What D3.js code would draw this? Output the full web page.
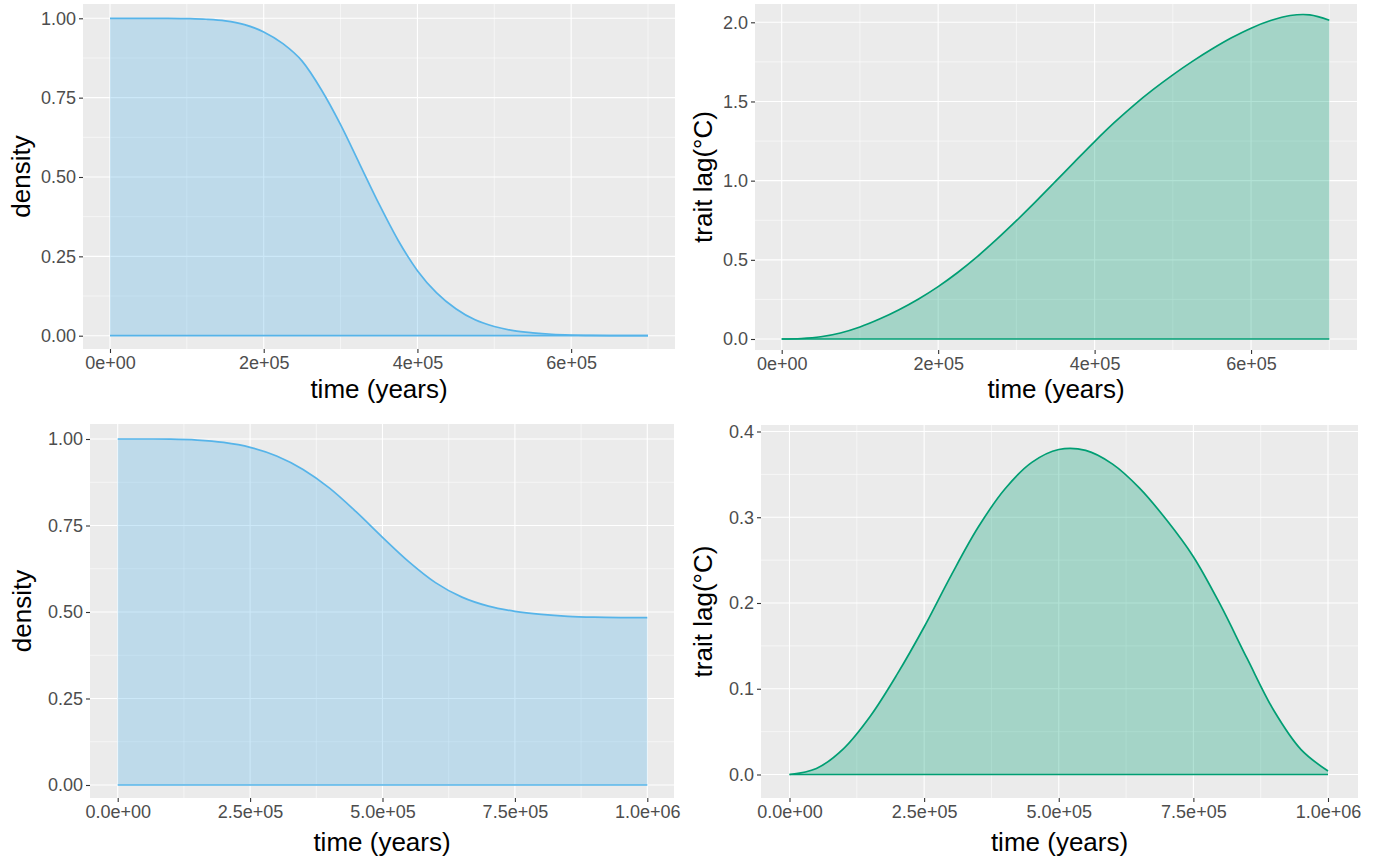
<!DOCTYPE html>
<html>
<head>
<meta charset="utf-8">
<script src="https://cdn.jsdelivr.net/npm/d3@7/dist/d3.min.js"></script>
<style>
  html, body { margin: 0; padding: 0; background: #ffffff; }
  svg { display: block; font-family: "Liberation Sans", Arial, Helvetica, sans-serif; }
</style>
</head>
<body>
<svg id="chart" width="1384" height="860"></svg>
<script>
// ---- data -------------------------------------------------------------
// top row: 0 .. 700 000 years, every 25 000 years
const timeTop = [0, 25000, 50000, 75000, 100000, 125000, 150000, 175000, 200000,
  225000, 250000, 275000, 300000, 325000, 350000, 375000, 400000, 425000, 450000,
  475000, 500000, 525000, 550000, 575000, 600000, 625000, 650000, 675000, 700000];
const densityTop = [1.0, 1.0, 1.0, 1.0, 0.999, 0.997, 0.992, 0.980, 0.957,
  0.92, 0.865, 0.775, 0.665, 0.54, 0.415, 0.30, 0.205, 0.135, 0.085,
  0.05, 0.029, 0.016, 0.009, 0.0045, 0.0022, 0.001, 0.0004, 0.0002, 0.0001];
const lagTop = [0, 0.003, 0.014, 0.038, 0.076, 0.126, 0.185, 0.253, 0.331,
  0.42, 0.52, 0.63, 0.747, 0.869, 0.995, 1.122, 1.247, 1.366, 1.476,
  1.576, 1.668, 1.753, 1.831, 1.902, 1.963, 2.011, 2.043, 2.047, 2.013];

// bottom row: 0 .. 1 000 000 years, every 50 000 years
const timeBottom = [0, 50000, 100000, 150000, 200000, 250000, 300000, 350000, 400000,
  450000, 500000, 550000, 600000, 650000, 700000, 750000, 800000, 850000, 900000,
  950000, 1000000];
const densityBottom = [1.0, 1.0, 0.9995, 0.997, 0.99, 0.976, 0.951, 0.912, 0.858,
  0.79, 0.716, 0.645, 0.585, 0.543, 0.517, 0.502, 0.493, 0.4875, 0.485,
  0.484, 0.4837];
const lagBottom = [0, 0.007, 0.03, 0.068, 0.117, 0.172, 0.232, 0.288, 0.333,
  0.364, 0.379, 0.378, 0.362, 0.334, 0.297, 0.254, 0.198, 0.135, 0.074,
  0.029, 0.004];

// axis breaks and their labels
const xBreaksTop = [0, 200000, 400000, 600000];
const xLabelsTop = ["0e+00", "2e+05", "4e+05", "6e+05"];
const xMinorTop = [100000, 300000, 500000, 700000];
const xBreaksBottom = [0, 250000, 500000, 750000, 1000000];
const xLabelsBottom = ["0.0e+00", "2.5e+05", "5.0e+05", "7.5e+05", "1.0e+06"];
const xMinorBottom = [125000, 375000, 625000, 875000];

const yBreaksDensity = [0, 0.25, 0.5, 0.75, 1];
const yLabelsDensity = ["0.00", "0.25", "0.50", "0.75", "1.00"];
const yMinorDensity = [0.125, 0.375, 0.625, 0.875];
const yBreaksLagTop = [0, 0.5, 1, 1.5, 2];
const yLabelsLagTop = ["0.0", "0.5", "1.0", "1.5", "2.0"];
const yMinorLagTop = [0.25, 0.75, 1.25, 1.75];
const yBreaksLagBottom = [0, 0.1, 0.2, 0.3, 0.4];
const yLabelsLagBottom = ["0.0", "0.1", "0.2", "0.3", "0.4"];
const yMinorLagBottom = [0.05, 0.15, 0.25, 0.35];

const BLUE = "#56B4E9";
const GREEN = "#009E73";

// ---- panel layout ---------------------------------------------------------
// rect: grey panel area; xr/yr: pixel positions of the first/last data anchors
const panels = [
  { t: timeTop, v: densityTop, color: BLUE, ytitle: "density", curve: d3.curveMonotoneX,
    xd: [0, 700000], xr: [110, 648], yd: [0, 1], yr: [335.7, 18.3],
    rect: [83, 4, 675, 349],
    xb: xBreaksTop, xl: xLabelsTop, xm: xMinorTop,
    yb: yBreaksDensity, yl: yLabelsDensity, ym: yMinorDensity,
    xtitleY: 391, ytitleX: 23 },
  { t: timeTop, v: lagTop, color: GREEN, ytitle: "trait lag(\u00B0C)", curve: d3.curveCatmullRom,
    xd: [0, 700000], xr: [781.7, 1329.3], yd: [0, 2], yr: [339, 22.3],
    rect: [755, 4, 1357, 350],
    xb: xBreaksTop, xl: xLabelsTop, xm: xMinorTop,
    yb: yBreaksLagTop, yl: yLabelsLagTop, ym: yMinorLagTop,
    xtitleY: 391, ytitleX: 705 },
  { t: timeBottom, v: densityBottom, color: BLUE, ytitle: "density", curve: d3.curveMonotoneX,
    xd: [0, 1000000], xr: [117.7, 647.3], yd: [0, 1], yr: [785, 439],
    rect: [90, 424, 674, 798],
    xb: xBreaksBottom, xl: xLabelsBottom, xm: xMinorBottom,
    yb: yBreaksDensity, yl: yLabelsDensity, ym: yMinorDensity,
    xtitleY: 844, ytitleX: 24 },
  { t: timeBottom, v: lagBottom, color: GREEN, ytitle: "trait lag(\u00B0C)", curve: d3.curveCatmullRom,
    xd: [0, 1000000], xr: [789.5, 1328], yd: [0, 0.4], yr: [774.5, 431.5],
    rect: [761, 425, 1358, 798],
    xb: xBreaksBottom, xl: xLabelsBottom, xm: xMinorBottom,
    yb: yBreaksLagBottom, yl: yLabelsLagBottom, ym: yMinorLagBottom,
    xtitleY: 844, ytitleX: 705 }
];

const svg = d3.select("#chart");

panels.forEach(p => {
  const [x0, y0, x1, y1] = p.rect;
  const x = d3.scaleLinear().domain(p.xd).range(p.xr);
  const y = d3.scaleLinear().domain(p.yd).range(p.yr);
  const g = svg.append("g");

  // panel background
  g.append("rect").attr("x", x0).attr("y", y0)
    .attr("width", x1 - x0).attr("height", y1 - y0).attr("fill", "#EBEBEB");

  // grid
  const grid = g.append("g").attr("stroke", "#ffffff").attr("fill", "none");
  p.xm.forEach(d => grid.append("line").attr("x1", x(d)).attr("x2", x(d))
    .attr("y1", y0).attr("y2", y1).attr("stroke-width", 0.55));
  p.ym.forEach(d => grid.append("line").attr("y1", y(d)).attr("y2", y(d))
    .attr("x1", x0).attr("x2", x1).attr("stroke-width", 0.55));
  p.xb.forEach(d => grid.append("line").attr("x1", x(d)).attr("x2", x(d))
    .attr("y1", y0).attr("y2", y1).attr("stroke-width", 1.1));
  p.yb.forEach(d => grid.append("line").attr("y1", y(d)).attr("y2", y(d))
    .attr("x1", x0).attr("x2", x1).attr("stroke-width", 1.1));

  // ribbon between 0 and the series
  const pts = p.t.map((t, i) => ({ t, v: p.v[i] }));
  const area = d3.area().curve(p.curve)
    .x(d => x(d.t)).y0(y(0)).y1(d => y(d.v));
  const upper = d3.line().curve(p.curve)
    .x(d => x(d.t)).y(d => y(d.v));
  const lower = d3.line().x(d => x(d.t)).y(() => y(0));
  g.append("path").datum(pts).attr("d", area)
    .attr("fill", p.color).attr("fill-opacity", 0.3);
  g.append("path").datum(pts).attr("d", upper)
    .attr("fill", "none").attr("stroke", p.color).attr("stroke-width", 1.7);
  g.append("path").datum(pts).attr("d", lower)
    .attr("fill", "none").attr("stroke", p.color).attr("stroke-width", 1.7);

  // x axis
  const xAxis = d3.axisBottom(x).tickValues(p.xb)
    .tickFormat((d, i) => p.xl[i]).tickSize(4).tickPadding(3);
  const gx = g.append("g").attr("transform", `translate(0,${y1})`).call(xAxis);
  gx.select(".domain").remove();
  gx.selectAll(".tick line").attr("stroke", "#333333").attr("stroke-width", 1.1);
  gx.selectAll(".tick text").attr("fill", "#4D4D4D")
    .style("font-size", "18px").style("font-family", "Liberation Sans, Arial, sans-serif");

  // y axis
  const yAxis = d3.axisLeft(y).tickValues(p.yb)
    .tickFormat((d, i) => p.yl[i]).tickSize(4).tickPadding(3);
  const gy = g.append("g").attr("transform", `translate(${x0},0)`).call(yAxis);
  gy.select(".domain").remove();
  gy.selectAll(".tick line").attr("stroke", "#333333").attr("stroke-width", 1.1);
  gy.selectAll(".tick text").attr("fill", "#4D4D4D")
    .style("font-size", "18px").style("font-family", "Liberation Sans, Arial, sans-serif");

  // titles
  g.append("text").attr("x", (x0 + x1) / 2).attr("y", p.xtitleY)
    .attr("text-anchor", "middle").attr("dominant-baseline", "middle")
    .attr("fill", "#000000").style("font-size", "26px").text("time (years)");
  g.append("text")
    .attr("transform", `translate(${p.ytitleX},${(y0 + y1) / 2}) rotate(-90)`)
    .attr("text-anchor", "middle").attr("dominant-baseline", "middle")
    .attr("fill", "#000000").style("font-size", "26px").text(p.ytitle);
});
</script>
</body>
</html>
